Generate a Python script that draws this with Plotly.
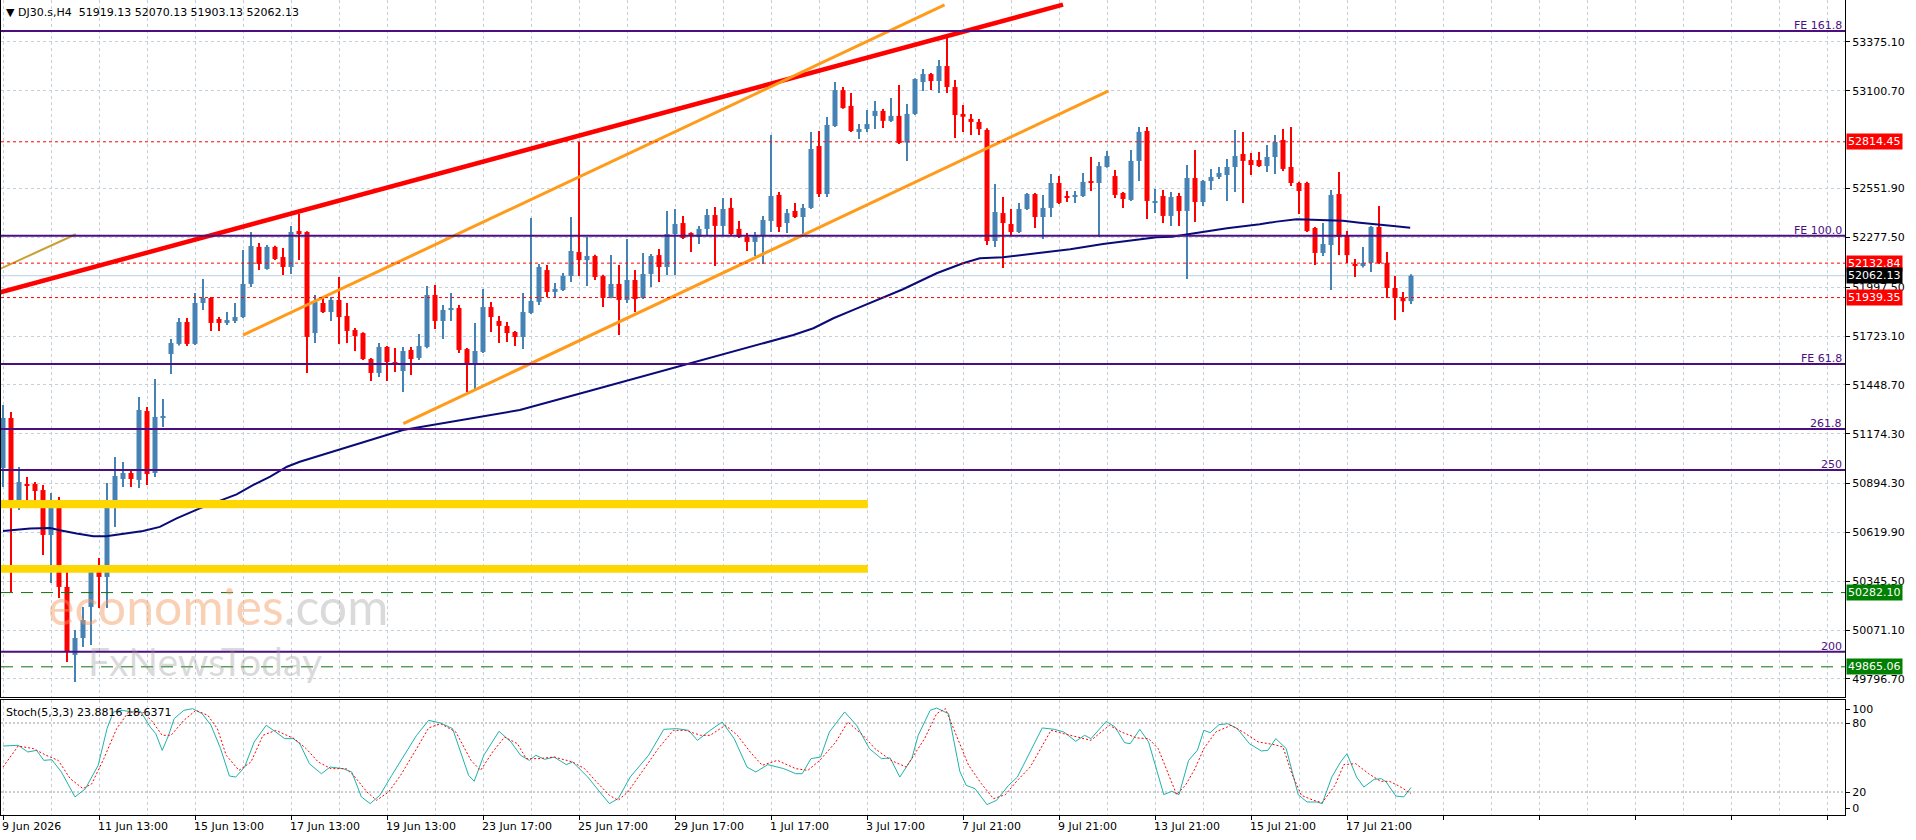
import plotly.graph_objects as go

# ---------------- data ----------------
bar_index = list(range(177))
opens = [50982, 51263, 50774, 50892, 50892, 50858, 50606, 50757, 50314, 49932,
         50027, 50201, 50409, 50370, 50791, 50920, 50954, 50915, 51302, 50954,
         51263, 51622, 51679, 51802, 51679, 51909, 51937, 51819, 51797, 51808,
         51830, 52016, 52224, 52100, 52224, 52167, 52111, 52313, 52308, 51740,
         51909, 51858, 51926, 51836, 51757, 51740, 51594, 51516, 51662, 51577,
         51527, 51645, 51600, 51662, 51954, 51808, 51873, 51881, 51650, 51566,
         51634, 51886, 51808, 51780, 51746, 51718, 51853, 51915, 52094, 51971,
         51982, 52061, 52195, 52150, 52173, 52060, 51937, 52016, 51926, 52038,
         51937, 52072, 52178, 52111, 52296, 52358, 52302, 52280, 52325, 52403,
         52342, 52443, 52325, 52280, 52252, 52285, 52370, 52516, 52358, 52426,
         52392, 52443, 52791, 52521, 52903, 53105, 53016, 52875, 52886, 52959,
         52988, 52932, 52960, 52810, 52971, 53150, 53195, 53156, 53240, 53122,
         52971, 52943, 52926, 52881, 52257, 52414, 52353, 52308, 52437, 52521,
         52392, 52443, 52583, 52510, 52504, 52510, 52589, 52583, 52673, 52622,
         52527, 52488, 52707, 52875, 52476, 52510, 52398, 52510, 52426, 52611,
         52476, 52594, 52617, 52628, 52673, 52746, 52712, 52712, 52678, 52729,
         52825, 52673, 52583, 52583, 52330, 52190, 52235, 52521, 52291, 52128,
         52117, 52134, 52336, 52134, 51993, 51937, 51919.13]
highs = [51336, 51297, 50988, 50932, 50903, 50887, 50842, 50819, 50409, 50072,
         50201, 50437, 50476, 50898, 51044, 51016, 50976, 51381, 51325, 51482,
         51370, 51707, 51825, 51825, 51965, 52044, 51943, 51830, 51858, 51909,
         52207, 52308, 52246, 52235, 52230, 52218, 52342, 52409, 52312, 51954,
         51937, 51943, 52055, 51909, 51768, 51745, 51600, 51684, 51667, 51656,
         51662, 51662, 51735, 52004, 52010, 51898, 51965, 51898, 51656, 51797,
         51988, 51915, 51836, 51802, 51752, 51965, 52386, 52128, 52122, 52021,
         52077, 52392, 52814, 52280, 52180, 52068, 52178, 52122, 52268, 52094,
         52190, 52184, 52212, 52426, 52437, 52398, 52306, 52342, 52437, 52448,
         52499, 52499, 52370, 52302, 52308, 52398, 52853, 52532, 52437, 52471,
         52465, 52870, 52875, 52954, 53150, 53122, 53089, 52914, 52993, 53044,
         52999, 53061, 53134, 53027, 53172, 53223, 53201, 53274, 53414, 53162,
         53021, 52971, 52943, 52890, 52577, 52504, 52437, 52471, 52527, 52527,
         52516, 52634, 52622, 52538, 52538, 52639, 52729, 52701, 52763, 52656,
         52532, 52768, 52898, 52898, 52549, 52544, 52532, 52527, 52684, 52768,
         52600, 52662, 52673, 52718, 52881, 52870, 52752, 52757, 52796, 52853,
         52886, 52898, 52590, 52590, 52336, 52358, 52544, 52645, 52313, 52156,
         52224, 52341, 52454, 52195, 52061, 51971, 52070.13]
lows = [50875, 50285, 50746, 50757, 50774, 50493, 50336, 50252, 49892, 49780,
        49977, 49988, 50196, 50196, 50651, 50875, 50875, 50870, 50887, 50932,
        51212, 51510, 51670, 51667, 51673, 51870, 51752, 51752, 51785, 51797,
        51825, 51999, 52094, 52095, 52150, 52066, 52072, 52150, 51516, 51684,
        51853, 51808, 51679, 51684, 51639, 51589, 51471, 51493, 51471, 51521,
        51409, 51504, 51589, 51655, 51763, 51707, 51808, 51628, 51409, 51426,
        51628, 51746, 51684, 51690, 51667, 51650, 51847, 51898, 51943, 51943,
        51976, 52027, 52061, 52004, 52038, 51886, 51935, 51729, 51909, 51858,
        51931, 51999, 52027, 52066, 52066, 52268, 52195, 52240, 52285, 52117,
        52291, 52291, 52274, 52201, 52173, 52128, 52308, 52308, 52302, 52386,
        52291, 52437, 52504, 52504, 52898, 53000, 52870, 52830, 52870, 52886,
        52892, 52926, 52802, 52707, 52965, 53100, 53105, 53089, 53089, 52836,
        52870, 52853, 52853, 52235, 52224, 52106, 52285, 52302, 52431, 52330,
        52268, 52392, 52465, 52476, 52471, 52505, 52538, 52280, 52668, 52499,
        52443, 52482, 52594, 52381, 52414, 52358, 52341, 52341, 52044, 52364,
        52454, 52544, 52605, 52482, 52532, 52471, 52628, 52673, 52645, 52634,
        52650, 52566, 52409, 52308, 52122, 52173, 51982, 52178, 52134, 52055,
        52108, 52083, 52128, 51937, 51813, 51858, 51903.13]
closes = [51263, 50774, 50903, 50886, 50853, 50606, 50757, 50314, 49948, 50027,
          50128, 50409, 50370, 50791, 50937, 50954, 50920, 51308, 50948, 51269,
          51269, 51684, 51802, 51679, 51909, 51937, 51797, 51797, 51813, 51830,
          52016, 52229, 52128, 52224, 52156, 52111, 52308, 52296, 51718, 51915,
          51858, 51926, 51830, 51752, 51723, 51594, 51516, 51662, 51577, 51566,
          51639, 51594, 51667, 51954, 51808, 51870, 51878, 51645, 51566, 51639,
          51886, 51830, 51780, 51740, 51718, 51858, 51920, 52111, 51971, 51988,
          52061, 52201, 52150, 52173, 52055, 51937, 52016, 51926, 52038, 51931,
          52072, 52173, 52111, 52296, 52353, 52274, 52291, 52325, 52403, 52342,
          52437, 52296, 52280, 52252, 52291, 52375, 52510, 52336, 52414, 52392,
          52443, 52774, 52521, 52909, 53105, 53004, 52875, 52886, 52914, 52988,
          52932, 52960, 52808, 52971, 53167, 53195, 53156, 53240, 53122, 52965,
          52955, 52926, 52886, 52257, 52420, 52358, 52308, 52437, 52521, 52392,
          52443, 52583, 52471, 52504, 52516, 52589, 52583, 52678, 52735, 52516,
          52493, 52707, 52870, 52482, 52482, 52398, 52504, 52426, 52611, 52476,
          52594, 52617, 52639, 52673, 52735, 52707, 52684, 52678, 52729, 52813,
          52662, 52583, 52538, 52313, 52190, 52240, 52516, 52280, 52178, 52117,
          52134, 52336, 52134, 51993, 51937, 51919.13, 52062.13]

x_tick_bars = [0, 12, 24, 36, 48, 60, 72, 84, 96, 108, 120, 132, 144, 156, 168]
x_tick_text = ["9 Jun 2026", "11 Jun 13:00", "15 Jun 13:00", "17 Jun 13:00", "19 Jun 13:00",
               "23 Jun 17:00", "25 Jun 17:00", "29 Jun 17:00", "1 Jul 17:00", "3 Jul 17:00",
               "7 Jul 21:00", "9 Jul 21:00", "13 Jul 21:00", "15 Jul 21:00", "17 Jul 21:00"]

price_ticks = [53375.10, 53100.70, 52551.90, 52277.50, 51997.50, 51723.10, 51448.70,
               51174.30, 50894.30, 50619.90, 50345.50, 50071.10, 49796.70]

ma_bars = [0, 3.4, 5.9, 7.1, 9.2, 11.3, 12.9, 15.5, 17.5, 19.6, 21.7, 24.6, 26.7, 29.2,
           31.3, 33.4, 35.5, 37.1, 50, 64.6, 73.4, 92.1, 95.5, 98.8, 101.3, 103.8, 106.3,
           109.6, 112.5, 116.7, 120, 122.1, 125, 129.2, 133.4, 137.5, 141.7, 144.2, 146.1,
           148.8, 153, 157.1, 159.2, 161.7, 164.2, 167.5, 169.6, 171.7, 173.8, 175.9]
ma_vals = [50628, 50642, 50645, 50632, 50614, 50599, 50599, 50614, 50628, 50651, 50699,
           50755, 50793, 50834, 50887, 50933, 50989, 51017, 51195, 51308, 51416, 51649,
           51692, 51729, 51767, 51823, 51870, 51930, 51986, 52076, 52132, 52160, 52166,
           52188, 52211, 52240, 52263, 52278, 52281, 52301, 52329, 52351, 52366, 52379,
           52375, 52371, 52360, 52353, 52342, 52332]

k_bars = [0, 1.9, 3.1, 4.2, 5.1, 6.1, 7.3, 9.0, 10.3, 11.9, 13.0, 13.8, 14.9, 16.1, 17.2,
          18.4, 19.1, 19.9, 20.7, 21.4, 22.6, 23.7, 24.9, 26.0, 27.2, 28.3, 29.1, 30.2,
          31.4, 32.9, 34.1, 35.2, 36.3, 37.1, 38.3, 39.8, 40.9, 42.5, 43.6, 44.8, 45.9,
          47.1, 48.6, 50.1, 51.7, 53.2, 54.7, 56.2, 58.2, 58.9, 60.1, 62.0, 63.5, 64.7,
          65.8, 66.6, 67.7, 68.9, 70.4, 71.2, 73.1, 74.6, 75.8, 76.9, 78.4, 80.7, 82.6,
          84.2, 85.7, 86.8, 88.4, 89.9, 91.4, 93.0, 94.1, 95.6, 97.6, 99.1, 99.9, 101.0,
          102.2, 103.3, 105.2, 106.7, 108.3, 109.8, 110.9, 112.1, 113.6, 114.4, 115.9,
          116.7, 118.2, 119.6, 120.4, 121.5, 123.0, 124.2, 125.7, 126.8, 128.4, 129.9,
          131.4, 132.6, 134.1, 135.2, 136.0, 137.9, 139.0, 140.2, 140.9, 142.1, 143.2,
          145.1, 146.1, 147.0, 148.2, 149.3, 150.1, 150.9, 152.0, 153.1, 154.3, 155.8,
          157.3, 158.1, 159.1, 160.4, 161.9, 163.0, 164.2, 164.9, 166.1, 167.2, 168.0,
          169.2, 170.1, 171.4, 172.3, 172.9, 174.1, 175.1, 176]
k_vals = [60, 60.6, 54.8, 56.2, 47.5, 48.1, 37.4, 15.7, 22.9, 43.2, 75.1, 89.6, 91, 89.6,
          90.1, 76.5, 70.7, 56.2, 69.3, 83.8, 91, 92.5, 88.1, 78, 57.7, 33.9, 33, 41.7,
          63.5, 78, 72.2, 66.4, 66.4, 62, 44.6, 35.9, 41.7, 40.3, 37.4, 15.7, 9.9, 17.1,
          34.5, 51.9, 69.3, 82.3, 80, 75.1, 34.5, 29.3, 51.9, 72.8, 63.5, 51.9, 47.5, 51.9,
          48.4, 50.4, 43.8, 46.1, 33, 20, 9.9, 14.2, 33, 51.9, 74.5, 75.1, 73.6, 64.9, 73.6,
          80.9, 66.4, 41.7, 37.4, 43.8, 40.3, 35.9, 35.9, 49, 50.4, 72.2, 89.6, 78, 57.7, 49,
          49.6, 33, 49, 69.3, 91, 93, 88.1, 38, 25.8, 22.9, 9, 12.8, 25.8, 33, 54.8, 75.7,
          74.5, 72.2, 64.1, 69.3, 66.4, 81.4, 76.5, 62.9, 62, 74.5, 63.5, 17.7, 20.6, 17.7,
          47.5, 56.2, 73.6, 71.6, 78.6, 79.4, 75.1, 62, 55.7, 56.2, 66.4, 57.7, 17.7, 11.3,
          11.3, 9.9, 33, 46.1, 53.3, 33, 24.3, 31, 31.6, 28.7, 16.5, 15.7, 23.8816]

d_bars = [0, 1.9, 3.8, 5.4, 6.9, 8.4, 10.0, 11.1, 12.6, 14.2, 15.7, 17.6, 18.7, 19.9, 21.0,
          22.6, 24.1, 25.6, 26.8, 27.9, 29.5, 31.0, 32.5, 34.1, 36.4, 37.9, 39.4, 41.0,
          42.9, 44.0, 45.5, 46.7, 48.2, 49.7, 51.7, 53.2, 54.7, 56.6, 58.5, 59.7, 61.2,
          62.7, 64.3, 65.4, 67.0, 68.9, 71.2, 72.7, 74.2, 75.8, 76.9, 78.1, 80.0, 81.9,
          83.8, 85.3, 87.2, 88.4, 90.3, 91.8, 93.4, 94.9, 96.8, 99.1, 100.6, 102.1, 104.1,
          105.6, 107.5, 109.0, 111.0, 112.9, 115.2, 116.7, 117.8, 119.6, 120.7, 122.3,
          123.8, 125.3, 126.8, 128.4, 129.9, 131.0, 132.6, 134.5, 136.0, 138.3, 139.8,
          141.7, 143.2, 144.4, 145.9, 146.7, 147.8, 149.0, 150.1, 151.6, 153.5, 155.0,
          156.9, 158.9, 160.0, 161.1, 162.3, 163.8, 164.9, 166.5, 167.6, 169.1, 170.7,
          172.2, 173.3, 174.5, 176]
d_vals = [41.7, 60, 57.7, 51.9, 47.5, 31.6, 22.9, 27.2, 49, 75.1, 89.6, 89, 80.9, 69.3, 69.3,
          82.3, 91, 86.7, 75.1, 51.9, 38.8, 46.1, 69.3, 73.6, 66.4, 57.7, 46.1, 40.3, 40.3,
          33, 20, 12.8, 20, 34.5, 57.7, 75.7, 79.4, 72.2, 47.5, 38.8, 54.8, 67.8, 62, 49, 49,
          50.4, 46.1, 40.3, 28.7, 17.1, 12.8, 20, 38.8, 57.7, 73.6, 73.6, 69.3, 69.3, 78,
          69.3, 54.8, 43.2, 47.5, 40.3, 38.8, 47.5, 63.5, 80.9, 69.3, 57.7, 47.5, 41.7, 66.4,
          88.1, 92.5, 62, 43.2, 27.2, 14.2, 17.7, 30.1, 41.7, 60.6, 73.6, 70.7, 67.8, 64.9,
          78, 72.2, 67, 66.4, 57.7, 31.6, 17.7, 25.8, 40.3, 57.7, 72.2, 78, 72.2, 63.5, 61.2,
          59.1, 35.9, 17.1, 12.8, 10.7, 25.8, 43.8, 44.6, 35.9, 29.3, 29.3, 25.2, 18.6371]

fib_names = ["FE 161.8", "FE 100.0", "FE 61.8", "261.8", "250", "200"]
fib_prices = [53437, 52287, 51566, 51201, 50971, 49950]
red_level_prices = [52814.45, 52132.84, 51939.35]
green_level_prices = [50282.10, 49865.06]
last_price = 52062.13

red_trend_bars = [-0.375, 132.5]
red_trend_prices = [51968, 53585]
orange_upper_bars = [30.0, 117.7]
orange_upper_prices = [51729, 53583]
orange_lower_bars = [50.04, 138.2]
orange_lower_prices = [51231, 53100]
small_trend_bars = [-0.375, 9.1]
small_trend_prices = [52100, 52295]

zone_bars = [-0.375, 108.1]
zone1_prices = [50756, 50802]
zone2_prices = [50394, 50437]

header_text = "▼ DJ30.s,H4  51919.13 52070.13 51903.13 52062.13"
stoch_text = "Stoch(5,3,3) 23.8816 18.6371"

# ---------------- figure ----------------
W, H = 1916, 840
ML, MR, MT, MB = 1, 71, 0, 25
PH = H - MT - MB  # 815
main_bottom_px = 697
stoch_top_px = 700

BLUE = "#4682B4"
RED = "#FF0000"
PURPLE = "#4B0F82"
GRID = "#c3d1dd"
FONT = "DejaVu Sans"

colors = [BLUE if c >= o else RED for o, c in zip(opens, closes)]

fig = go.Figure()

# wicks
fig.add_trace(go.Bar(
    x=bar_index, y=[h - l for h, l in zip(highs, lows)], base=lows,
    width=0.14, marker=dict(color=colors, line=dict(width=0)),
    xaxis="x", yaxis="y", hoverinfo="skip", showlegend=False))
# bodies
fig.add_trace(go.Bar(
    x=bar_index, y=[max(abs(c - o), 6) for o, c in zip(opens, closes)],
    base=[min(o, c) for o, c in zip(opens, closes)],
    width=0.625, marker=dict(color=colors, line=dict(width=0)),
    xaxis="x", yaxis="y", hoverinfo="skip", showlegend=False))

# moving average
fig.add_trace(go.Scatter(x=ma_bars, y=ma_vals, mode="lines",
                         line=dict(color="#0a0a78", width=2),
                         xaxis="x", yaxis="y", hoverinfo="skip", showlegend=False))

# trend lines
for bx, py, col, w in [(red_trend_bars, red_trend_prices, RED, 4.5),
                       (orange_upper_bars, orange_upper_prices, "#FF9A1A", 3),
                       (orange_lower_bars, orange_lower_prices, "#FF9A1A", 3),
                       (small_trend_bars, small_trend_prices, "#C8A030", 2)]:
    fig.add_trace(go.Scatter(x=bx, y=py, mode="lines", line=dict(color=col, width=w),
                             xaxis="x", yaxis="y", hoverinfo="skip", showlegend=False))

# stochastic
fig.add_trace(go.Scatter(x=k_bars, y=k_vals, mode="lines",
                         line=dict(color="#20B2AA", width=1),
                         xaxis="x2", yaxis="y2", hoverinfo="skip", showlegend=False))
fig.add_trace(go.Scatter(x=d_bars, y=d_vals, mode="lines",
                         line=dict(color=RED, width=1, dash="2px,2px"),
                         xaxis="x2", yaxis="y2", hoverinfo="skip", showlegend=False))

shapes = []
# yellow zones
for zp in (zone1_prices, zone2_prices):
    shapes.append(dict(type="rect", xref="x", yref="y", x0=zone_bars[0], x1=zone_bars[1],
                       y0=zp[0], y1=zp[1], fillcolor="#FFD700", line=dict(width=0),
                       layer="above"))
# fib lines
for p in fib_prices:
    shapes.append(dict(type="line", xref="paper", yref="y", x0=0, x1=1, y0=p, y1=p,
                       line=dict(color=PURPLE, width=2), layer="above"))
for p in red_level_prices:
    shapes.append(dict(type="line", xref="paper", yref="y", x0=0, x1=1, y0=p, y1=p,
                       line=dict(color=RED, width=1, dash="3px,3px"), layer="above"))
for p in green_level_prices:
    shapes.append(dict(type="line", xref="paper", yref="y", x0=0, x1=1, y0=p, y1=p,
                       line=dict(color="#107010", width=1, dash="12px,8px"), layer="above"))
shapes.append(dict(type="line", xref="paper", yref="y", x0=0, x1=1, y0=last_price,
                   y1=last_price, line=dict(color="#b8d0e2", width=1), layer="below"))
# stoch levels
for lv in (20, 80):
    shapes.append(dict(type="line", xref="paper", yref="y2", x0=0, x1=1, y0=lv, y1=lv,
                       line=dict(color="#9a9a9a", width=1, dash="2px,2px"), layer="below"))

annotations = []
# header
annotations.append(dict(text=header_text.replace(" ", "\u00a0"), xref="paper", yref="paper",
                        x=0, y=1, xanchor="left", yanchor="top", xshift=3, yshift=-4,
                        showarrow=False, font=dict(family=FONT, size=11, color="black")))
annotations.append(dict(text=stoch_text.replace(" ", "\u00a0"), xref="paper", yref="paper",
                        x=0, y=(H - MB - stoch_top_px) / PH, xanchor="left", yanchor="top",
                        xshift=3, yshift=-4, showarrow=False,
                        font=dict(family=FONT, size=11, color="black")))
# fib labels
for name, p in zip(fib_names, fib_prices):
    annotations.append(dict(text=name, xref="paper", yref="y", x=1, y=p, xanchor="right",
                            yanchor="bottom", xshift=-1, yshift=-3, showarrow=False,
                            font=dict(family=FONT, size=11, color=PURPLE)))
# price boxes
for p in red_level_prices:
    annotations.append(dict(text=f"{p:.2f}", xref="paper", yref="y", x=1, y=p,
                            xanchor="left", yanchor="middle", xshift=1, showarrow=False,
                            bgcolor=RED, borderpad=1,
                            font=dict(family=FONT, size=11, color="white")))
for p in green_level_prices:
    annotations.append(dict(text=f"{p:.2f}", xref="paper", yref="y", x=1, y=p,
                            xanchor="left", yanchor="middle", xshift=1, showarrow=False,
                            bgcolor="#008000", borderpad=1,
                            font=dict(family=FONT, size=11, color="white")))
annotations.append(dict(text=f"{last_price:.2f}", xref="paper", yref="y", x=1, y=last_price,
                        xanchor="left", yanchor="middle", xshift=1, showarrow=False,
                        bgcolor="black", borderpad=1,
                        font=dict(family=FONT, size=11, color="white")))
# x labels
for b, t in zip(x_tick_bars, x_tick_text):
    annotations.append(dict(text=t, xref="x2", yref="paper", x=b, y=0, xanchor="left",
                            yanchor="top", xshift=-3, yshift=-3, showarrow=False,
                            font=dict(family=FONT, size=11, color="black")))
# watermark (two stacked texts whose boxes touch but do not overlap)
wm_split_px = 637
annotations.append(dict(
    text="<span style='color:rgba(245,150,90,0.45)'>economies</span>"
         "<span style='color:rgba(150,150,150,0.35)'>.com</span>",
    xref="paper", yref="paper", x=46 / 1844, y=(H - MB - wm_split_px) / PH, xanchor="left",
    yanchor="bottom", borderpad=0, showarrow=False, font=dict(family="Lato", size=50)))
annotations.append(dict(
    text="FxNewsToday", xref="paper", yref="paper", x=86 / 1844,
    y=(H - MB - wm_split_px) / PH, xanchor="left", yanchor="top", borderpad=0,
    showarrow=False, font=dict(family="Lato", size=39, color="rgba(150,150,150,0.35)")))

main_dom = [(H - MB - main_bottom_px) / PH, 1]
stoch_dom = [0, (H - MB - stoch_top_px) / PH]
x_range = [-0.25, 230.25]

xcommon = dict(range=x_range, showgrid=True, gridcolor=GRID, griddash="3px,3px", gridwidth=1,
               tick0=0, dtick=12, zeroline=False, showline=True, mirror=True,
               linecolor="black", linewidth=1, showticklabels=False,
               minor=dict(tick0=0, dtick=6, showgrid=True, gridcolor=GRID,
                          griddash="3px,3px", ticks=""))

fig.update_layout(
    width=W, height=H, margin=dict(l=ML, r=MR, t=MT, b=MB),
    paper_bgcolor="white", plot_bgcolor="white", barmode="overlay",
    font=dict(family=FONT, size=11, color="black"),
    showlegend=False,
    xaxis=dict(domain=[0, 1], anchor="y", ticks="", **xcommon),
    xaxis2=dict(domain=[0, 1], anchor="y2", ticks="outside", ticklen=4, tickcolor="black",
                **xcommon),
    yaxis=dict(domain=main_dom, anchor="x", side="right",
               range=[49695.5, 53611.0], tickvals=price_ticks,
               ticktext=[f"{v:.2f}" for v in price_ticks], ticks="outside", ticklen=4,
               tickcolor="black", showgrid=True, gridcolor=GRID, griddash="3px,3px",
               zeroline=False, showline=True, mirror=True, linecolor="black", linewidth=1,
               tickfont=dict(family=FONT, size=11)),
    yaxis2=dict(domain=stoch_dom, anchor="x2", side="right", range=[0, 100],
                tickvals=[92, 80, 20, 6], ticktext=["100", "80", "20", "0"],
                ticks="outside", ticklen=4, tickcolor="black", showgrid=False,
                zeroline=False, showline=True, mirror=True, linecolor="black", linewidth=1,
                tickfont=dict(family=FONT, size=11)),
    shapes=shapes, annotations=annotations,
)

fig.write_html("out.html", config={"displayModeBar": False})
